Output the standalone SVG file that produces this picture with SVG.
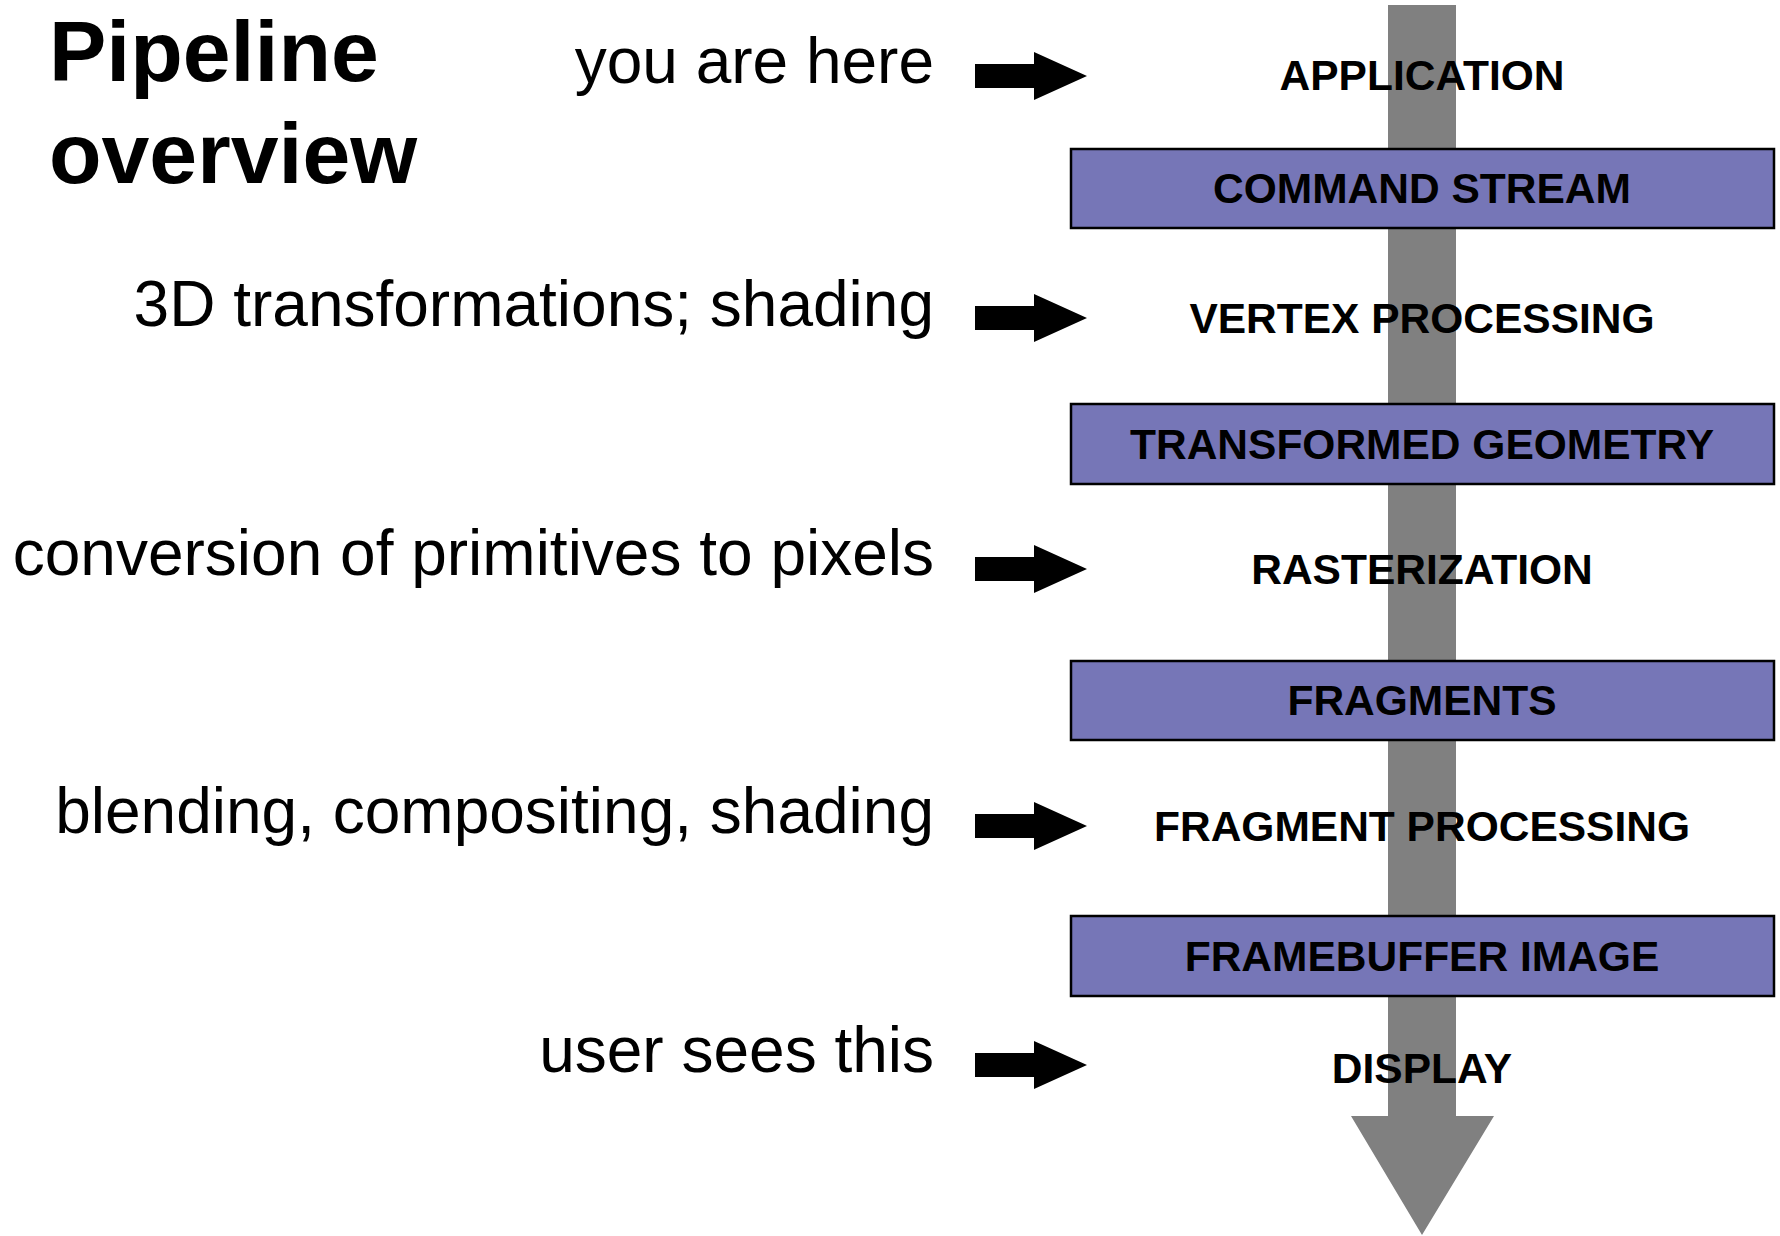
<svg xmlns="http://www.w3.org/2000/svg" width="1780" height="1236" viewBox="0 0 1780 1236">
<style>
.title{font-family:"Liberation Sans",Arial,sans-serif;font-weight:bold;font-size:86px;fill:#000}
.note{font-family:"Liberation Sans",Arial,sans-serif;font-size:64px;fill:#000;text-anchor:end}
.stage{font-family:"Liberation Sans",Arial,sans-serif;font-weight:bold;font-size:42.5px;fill:#000;text-anchor:middle}
.box{fill:#7676B7;stroke:#000;stroke-width:2.5}
.ptr{fill:#000}
</style>
<defs>
<path id="ptr" d="M975,-12 H1034 V-24 L1087,0 L1034,24 V12 H975 Z"/>
</defs>
<rect width="1780" height="1236" fill="#fff"/>
<g id="connectors">
<path id="pipeline-flow" d="M1388,5 H1456 V1116 H1494 L1422,1235 L1351,1116 H1388 Z" fill="#808080"/>
<use href="#ptr" class="ptr" y="76"/>
<use href="#ptr" class="ptr" y="318"/>
<use href="#ptr" class="ptr" y="569"/>
<use href="#ptr" class="ptr" y="826"/>
<use href="#ptr" class="ptr" y="1065"/>
</g>
<g id="title">
<text class="title" x="49" y="81">Pipeline</text>
<text class="title" x="49" y="183">overview</text>
</g>
<g id="note-you-are-here"><text class="note" x="934" y="83">you are here</text></g>
<g id="note-3d"><text class="note" x="934" y="326">3D transformations; shading</text></g>
<g id="note-conversion"><text class="note" x="934" y="575">conversion of primitives to pixels</text></g>
<g id="note-blending"><text class="note" x="934" y="833">blending, compositing, shading</text></g>
<g id="note-user"><text class="note" x="934" y="1072">user sees this</text></g>
<g id="application"><text class="stage" x="1422" y="90">APPLICATION</text></g>
<g id="command-stream"><rect class="box" x="1071" y="149" width="703" height="79"/><text class="stage" x="1422" y="203">COMMAND STREAM</text></g>
<g id="vertex-processing"><text class="stage" x="1422" y="333">VERTEX PROCESSING</text></g>
<g id="transformed-geometry"><rect class="box" x="1071" y="404" width="703" height="80"/><text class="stage" x="1422" y="459">TRANSFORMED GEOMETRY</text></g>
<g id="rasterization"><text class="stage" x="1422" y="584">RASTERIZATION</text></g>
<g id="fragments"><rect class="box" x="1071" y="661" width="703" height="79"/><text class="stage" x="1422" y="715">FRAGMENTS</text></g>
<g id="fragment-processing"><text class="stage" x="1422" y="841">FRAGMENT PROCESSING</text></g>
<g id="framebuffer-image"><rect class="box" x="1071" y="916" width="703" height="80"/><text class="stage" x="1422" y="971">FRAMEBUFFER IMAGE</text></g>
<g id="display"><text class="stage" x="1422" y="1083">DISPLAY</text></g>
</svg>
